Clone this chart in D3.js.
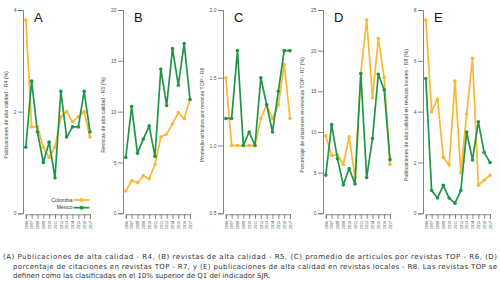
<!DOCTYPE html>
<html>
<head>
<meta charset="utf-8">
<script src="https://cdn.jsdelivr.net/npm/d3@7"></script>
<style>
  body { margin: 0; background: #fff; }
  svg { display: block; }
  .tick text { fill: #555; }
  .caption { font-family: "DejaVu Sans", Verdana, sans-serif; font-size: 7px; fill: #333; }
</style>
</head>
<body>
<div id="chart"></div>
<script>
const years = ['2006', '2007', '2008', '2009', '2010', '2011', '2012', '2013', '2014', '2015', '2016', '2017'];
const seriesNames = ['Colombia', 'México'];

const colombiaR4 = [3.8, 1.7, 1.7, 1.3, 1.1, 1.3, 1.9, 2.0, 1.8, 1.9, 2.0, 1.5];
const mexicoR4 = [1.3, 2.6, 1.6, 1.0, 1.4, 0.7, 2.4, 1.5, 1.7, 1.7, 2.4, 1.6];

const colombiaR5 = [2.2, 3.2, 3.0, 3.7, 3.4, 4.8, 7.5, 7.8, 8.8, 9.9, 9.3, 11.2];
const mexicoR5 = [5.5, 10.5, 5.9, 7.3, 8.6, 5.6, 14.2, 10.6, 16.2, 12.6, 16.7, 11.2];

const colombiaR6 = [1.5, 1.0, 1.0, 1.0, 1.0, 1.0, 1.2, 1.3, 1.2, 1.3, 1.6, 1.2];
const mexicoR6 = [1.2, 1.2, 1.7, 1.0, 1.1, 1.0, 1.5, 1.3, 1.1, 1.4, 1.7, 1.7];

const colombiaR7 = [9.5, 7.1, 7.2, 6.0, 9.4, 4.4, 17.2, 23.8, 14.2, 21.5, 16.7, 6.0];
const mexicoR7 = [4.7, 10.9, 6.7, 3.5, 5.5, 3.6, 17.2, 4.4, 9.2, 17.1, 15.2, 6.6];

const colombiaR8 = [7.6, 4.0, 4.5, 2.2, 1.9, 5.2, 1.6, 3.9, 6.1, 1.1, 1.3, 1.5];
const mexicoR8 = [5.3, 0.9, 0.6, 1.1, 0.6, 0.4, 0.9, 3.2, 2.1, 3.6, 2.4, 2.0];

const panelLetters = ['A', 'B', 'C', 'D', 'E'];
const yLabels = [
  'Publicaciones de alta calidad - R4 (%)',
  'Revistas de alta calidad - R5 (%)',
  'Promedio artículos por revistas TOP - R6',
  'Porcentaje de citaciones en revistas TOP - R7 (%)',
  'Publicaciones de alta calidad en revistas locales - R8 (%)'
];
const yDomains = [[0, 4], [0, 20], [0.5, 2.0], [0, 25], [0, 8]];
const yTicks = [[0, 2, 4], [0, 5, 10, 15, 20], [0.5, 1.0, 1.5, 2.0], [0, 5, 10, 15, 20, 25], [0, 2, 4, 6, 8]];
const yFormats = ['d', 'd', '.1f', 'd', 'd'];

const captionLines = [
  '(A) Publicaciones de alta calidad - R4, (B) revistas de alta calidad - R5, (C) promedio de articulos por revistas TOP - R6, (D)',
  'porcentaje de citaciones en revistas TOP - R7, y (E) publicaciones de alta calidad en revistas locales - R8. Las revistas TOP se',
  'definen como las clasificadas en el 10% superior de Q1 del indicador SJR.'
];

const panels = [
  [colombiaR4, mexicoR4],
  [colombiaR5, mexicoR5],
  [colombiaR6, mexicoR6],
  [colombiaR7, mexicoR7],
  [colombiaR8, mexicoR8]
];

const colors = ['#fbb833', '#1f9646'];
const labelOffsets = [15, 18.5, 19.5, 19.5, 15.5];

const width = 500, height = 281;
const svg = d3.select('#chart').append('svg')
  .attr('width', width)
  .attr('height', height);

const panelX = d3.scalePoint().domain(d3.range(5)).range([23, 423]);
const x = d3.scalePoint().domain(years).range([2.8, 67]);
const font = '"Liberation Sans", Arial, sans-serif';

panels.forEach((series, i) => {
  const g = svg.append('g').attr('transform', `translate(${panelX(i)},0)`);
  const y = d3.scaleLinear().domain(yDomains[i]).range([213.3, 10]);

  const yAxis = g.append('g')
    .call(d3.axisLeft(y).tickValues(yTicks[i]).tickFormat(d3.format(yFormats[i])).tickSize(5).tickPadding(1.5));
  yAxis.selectAll('path, line').attr('stroke', '#777').attr('stroke-width', 0.9);
  yAxis.selectAll('text').style('font-family', font).style('font-size', '5px');

  const xAxis = g.append('g')
    .attr('transform', 'translate(0,214.3)')
    .call(d3.axisBottom(x).tickSize(4.5).tickPadding(1.5));
  xAxis.selectAll('path, line').attr('stroke', '#777').attr('stroke-width', 0.9);
  xAxis.selectAll('text')
    .style('font-family', font)
    .style('font-size', '3.8px')
    .attr('text-anchor', 'end')
    .attr('transform', 'rotate(-90)')
    .attr('x', -6.5)
    .attr('y', 0)
    .attr('dy', '0.35em');

  g.append('text')
    .attr('transform', `translate(${-labelOffsets[i]},115) rotate(-90)`)
    .attr('text-anchor', 'middle')
    .style('font-family', font)
    .style('font-size', '5.2px')
    .style('fill', '#444')
    .text(yLabels[i]);

  g.append('text')
    .attr('x', 11)
    .attr('y', 21.5)
    .style('font-family', font)
    .style('font-size', '13px')
    .style('fill', '#111')
    .text(panelLetters[i]);

  const line = d3.line()
    .x((d, j) => x(years[j]))
    .y(d => y(d));

  // Mexico drawn last so it sits on top
  series.forEach((vals, s) => {
    g.append('path')
      .datum(vals)
      .attr('fill', 'none')
      .attr('stroke', colors[s])
      .attr('stroke-width', 1.7)
      .attr('stroke-linejoin', 'round')
      .attr('d', line);
    g.selectAll(`.pt${s}`)
      .data(vals)
      .join('circle')
      .attr('class', `pt${s}`)
      .attr('cx', (d, j) => x(years[j]))
      .attr('cy', d => y(d))
      .attr('r', 1.8)
      .attr('fill', colors[s]);
  });

  if (i === 0) {
    const legend = g.append('g');
    seriesNames.forEach((name, s) => {
      const ly = 200 + s * 7.7;
      legend.append('text')
        .attr('x', 49.5)
        .attr('y', ly)
        .attr('dy', '0.35em')
        .attr('text-anchor', 'end')
        .style('font-family', font)
        .style('font-size', '5px')
        .style('fill', '#333')
        .text(name);
      legend.append('line')
        .attr('x1', 50.5).attr('x2', 66.5)
        .attr('y1', ly).attr('y2', ly)
        .attr('stroke', colors[s])
        .attr('stroke-width', 1.7);
      legend.append('circle')
        .attr('cx', 58.7).attr('cy', ly).attr('r', 2)
        .attr('fill', colors[s]);
    });
  }
});

const caption = svg.append('g');
captionLines.forEach((t, k) => {
  const txt = caption.append('text')
    .attr('class', 'caption')
    .attr('x', k === 0 ? 3 : 13)
    .attr('y', 259 + k * 9.5)
    .text(t);
  if (k < 2) {
    txt.attr('textLength', k === 0 ? 494 : 484).attr('lengthAdjust', 'spacing');
  }
});
</script>
</body>
</html>
